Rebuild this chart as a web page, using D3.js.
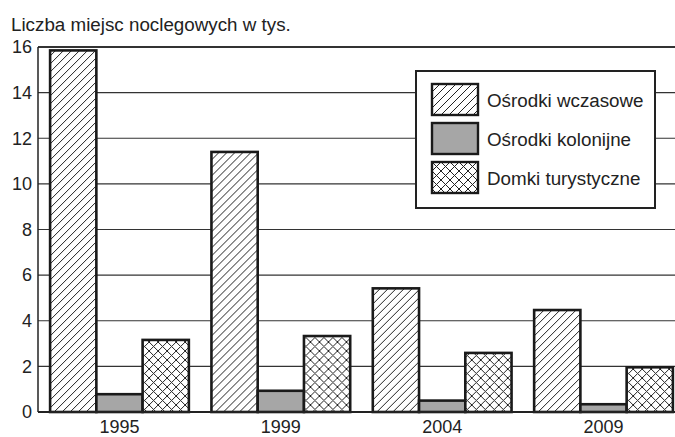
<!DOCTYPE html>
<html>
<head>
<meta charset="utf-8">
<script src="https://cdn.jsdelivr.net/npm/d3@7"></script>
<style>
  body { margin: 0; background: #fff; }
  svg { display: block; font-family: "Liberation Sans", Arial, sans-serif; }
</style>
</head>
<body>
<div class="chart"></div>
<script>
var years = ["1995", "1999", "2004", "2009"];
var seriesNames = ["Ośrodki wczasowe", "Ośrodki kolonijne", "Domki turystyczne"];
var wczasowe = [15.85, 11.4, 5.42, 4.47];
var kolonijne = [0.78, 0.93, 0.5, 0.34];
var domki = [3.16, 3.33, 2.59, 1.96];
var yTicks = [0, 2, 4, 6, 8, 10, 12, 14, 16];

var svgWidth = 675;
var svgHeight = 437;

var svg = d3.select(".chart")
    .append("svg")
    .attr("width", svgWidth)
    .attr("height", svgHeight);

var defs = svg.append("defs");

// diagonal hatch
var hatch = defs.append("pattern")
    .attr("id", "hatch")
    .attr("patternUnits", "userSpaceOnUse")
    .attr("width", 8)
    .attr("height", 8);
hatch.append("rect").attr("width", 8).attr("height", 8).attr("fill", "#fff");
hatch.append("path")
    .attr("d", "M-2,2 L2,-2 M0,8 L8,0 M6,10 L10,6")
    .attr("stroke", "#222")
    .attr("stroke-width", 1);

// cross hatch
var cross = defs.append("pattern")
    .attr("id", "cross")
    .attr("patternUnits", "userSpaceOnUse")
    .attr("width", 9)
    .attr("height", 9);
cross.append("rect").attr("width", 9).attr("height", 9).attr("fill", "#fff");
cross.append("path")
    .attr("d", "M-2,2 L2,-2 M0,9 L9,0 M7,11 L11,7 M-2,7 L2,11 M0,0 L9,9 M7,-2 L11,2")
    .attr("stroke", "#222")
    .attr("stroke-width", 1);

var fills = ["url(#hatch)", "#a6a6a6", "url(#cross)"];

var y = d3.scaleLinear()
    .domain([0, 16])
    .range([412, 47]);

var x0 = d3.scaleBand()
    .domain(years)
    .range([38, 685])
    .paddingInner(0.14)
    .paddingOuter(0.075);

var x1 = d3.scaleBand()
    .domain(d3.range(3))
    .range([0, x0.bandwidth()]);

// title
svg.append("text")
    .attr("x", 11)
    .attr("y", 31)
    .attr("font-size", 18.8)
    .attr("fill", "#222")
    .text("Liczba miejsc noclegowych w tys.");

// grid lines
svg.append("g")
    .selectAll("line")
    .data(yTicks.filter(d => d > 0))
    .enter()
    .append("line")
    .attr("x1", 38)
    .attr("x2", svgWidth)
    .attr("y1", d => y(d))
    .attr("y2", d => y(d))
    .attr("stroke", "#333")
    .attr("stroke-width", d => d === 16 ? 2 : 1.2);

// y axis
var leftAxis = d3.axisLeft(y)
    .tickValues(yTicks)
    .tickSize(0)
    .tickPadding(6);
var yAxis = svg.append("g")
    .attr("transform", "translate(38,0)")
    .call(leftAxis);
yAxis.select(".domain").attr("stroke", "#222").attr("stroke-width", 1.5).attr("d", "M0,47V412");
yAxis.selectAll(".tick text")
    .attr("font-size", 18)
    .attr("fill", "#222")
    .attr("font-family", "Liberation Sans, Arial, sans-serif");

// bars
var table = years.map(function(yr, i) {
    return { year: yr, values: [wczasowe[i], kolonijne[i], domki[i]] };
});

var groups = svg.append("g")
    .selectAll("g")
    .data(table)
    .enter()
    .append("g")
    .attr("transform", d => `translate(${x0(d.year)},0)`);

groups.selectAll("rect")
    .data(d => d.values.map((v, k) => ({ k: k, v: v })))
    .enter()
    .append("rect")
    .attr("x", d => x1(d.k))
    .attr("y", d => y(d.v))
    .attr("width", x1.bandwidth())
    .attr("height", d => y(0) - y(d.v))
    .attr("fill", d => fills[d.k])
    .attr("stroke", "#1a1a1a")
    .attr("stroke-width", 2.6);

// baseline
svg.append("line")
    .attr("x1", 38)
    .attr("x2", svgWidth)
    .attr("y1", y(0))
    .attr("y2", y(0))
    .attr("stroke", "#222")
    .attr("stroke-width", 2);

// x labels
var bottomAxis = d3.axisBottom(x0).tickSize(0).tickPadding(8);
var xAxis = svg.append("g")
    .attr("transform", `translate(0,${y(0)})`)
    .call(bottomAxis);
xAxis.select(".domain").remove();
xAxis.selectAll(".tick text")
    .attr("font-size", 18)
    .attr("fill", "#222")
    .attr("font-family", "Liberation Sans, Arial, sans-serif");

// legend
var legend = svg.append("g").attr("transform", "translate(416,71)");
legend.append("rect")
    .attr("width", 239)
    .attr("height", 137)
    .attr("fill", "#fff")
    .attr("stroke", "#222")
    .attr("stroke-width", 2);

var items = legend.selectAll(".item")
    .data(seriesNames)
    .enter()
    .append("g")
    .attr("class", "item")
    .attr("transform", (d, i) => `translate(16,${13 + i * 39})`);
items.append("rect")
    .attr("width", 46)
    .attr("height", 31)
    .attr("fill", (d, i) => fills[i])
    .attr("stroke", "#1a1a1a")
    .attr("stroke-width", 2.4);
items.append("text")
    .attr("x", 55)
    .attr("y", 23)
    .attr("font-size", 18.8)
    .attr("fill", "#222")
    .text(d => d);
</script>
</body>
</html>
